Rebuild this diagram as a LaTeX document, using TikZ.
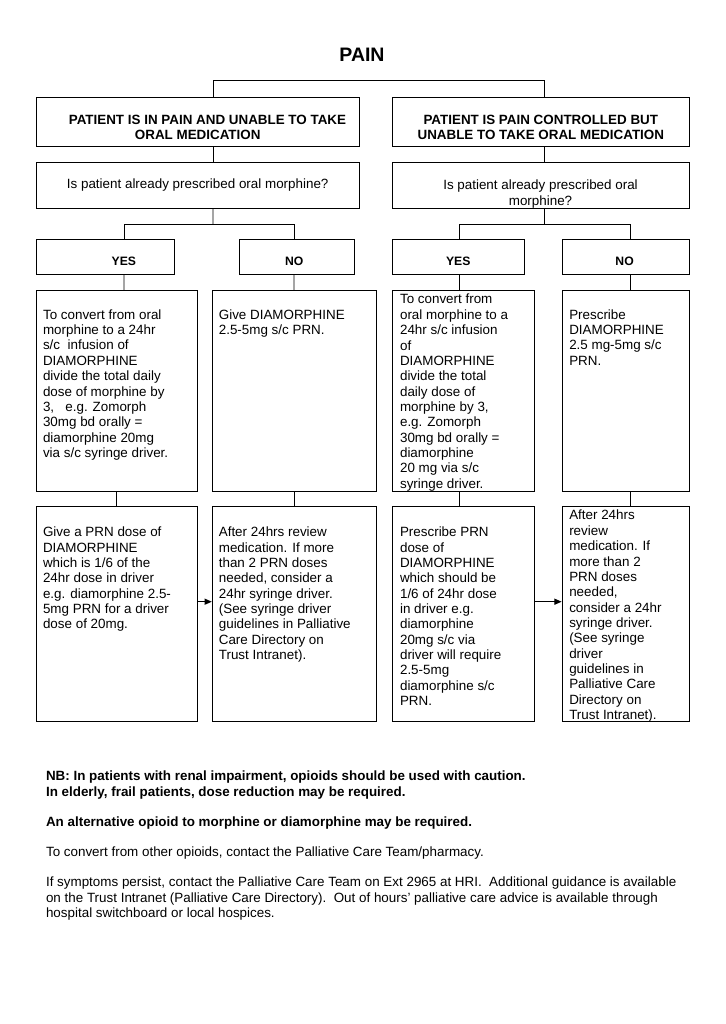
\documentclass[tikz,border=0pt]{standalone}
\usepackage{fontspec}
\setmainfont{Liberation Sans}
\usetikzlibrary{arrows.meta,positioning,fit}
\tikzset{
  box/.style={draw, line width=0.6pt, inner sep=0pt},
  txt/.style={inner sep=0pt, align=left, anchor=north west, font=\fontsize{11}{12.6}\selectfont},
  hdr/.style={inner sep=0pt, align=center, font=\fontsize{11}{12.6}\selectfont\bfseries},
  yn/.style={inner sep=0pt, font=\fontsize{10}{12}\selectfont\bfseries},
  ttl/.style={inner sep=0pt, font=\fontsize{16}{19}\selectfont\bfseries},
  link/.style={line width=0.6pt},
  arr/.style={line width=1pt, -{Triangle[length=6pt,width=5pt]}}
}

\begin{document}
\begin{tikzpicture}[x=0.8207pt,y=-0.8207pt]
  \useasboundingbox (0,0) rectangle (725,1024);
  \fill[white] (0,0) rectangle (725,1024);
  \node[ttl] (pain) at (362,55) {PAIN};
  % header boxes
  \node[box, fit={(36,97) (359.3,146.5)}] (h1) {};
  \node[box, fit={(392.6,97) (689,146.5)}] (h2) {};
  \node[hdr] (h1t) at (197.7,127.2) {\hspace*{16pt}PATIENT IS IN PAIN AND UNABLE TO TAKE\\ORAL MEDICATION};
  \node[hdr] (h2t) at (540.8,127.2) {PATIENT IS PAIN CONTROLLED BUT\\UNABLE TO TAKE ORAL MEDICATION};
  % questions
  \node[box, fit={(36,162) (359.3,208)}] (q1) {};
  \node[box, fit={(392.6,162) (689,208)}] (q2) {};
  \node[txt, anchor=center, align=center] (q1t) at (197.7,185) {Is patient already prescribed oral morphine?};
  \node[txt, anchor=center, align=center] (q2t) at (540.5,194.2) {Is patient already prescribed oral\\morphine?};
  % yes / no
  \foreach \n/\a/\b in {y1/36/174.2, n1/239.5/354.6, y2/392.6/524.4, n2/562/689}
    \node[box, fit={(\a,239.3) (\b,274.3)}] (\n) {};
  \foreach \n/\x/\t in {y1t/123.9/YES, n1t/294.3/NO, y2t/458.3/YES, n2t/624.6/NO}
    \node[yn] (\n) at (\x,261.7) {\t};
  % answer boxes
  \foreach \n/\a/\b in {c1/36/197.7, c2/212.2/376.8, c3/392.6/534.2, c4/562/689}{
    \node[box, fit={(\a,290.3) (\b,491)}] (\n) {};
    \node[box, fit={(\a,506.7) (\b,721.7)}] (d\n) {};
  }
  \node[txt] (c1t) at (42.8,309.3) {To convert from oral\\morphine to a 24hr\\s/c\ \ infusion of\\DIAMORPHINE\\divide the total daily\\dose of morphine by\\3,\ \ \ e.g. Zomorph\\30mg bd orally =\\diamorphine 20mg\\via s/c syringe driver.};
  \node[txt] (c2t) at (218.6,309.3) {Give DIAMORPHINE\\2.5-5mg s/c PRN.};
  \node[txt] (c3t) at (399.8,294) {To convert from\\oral morphine to a\\24hr s/c infusion\\of\\DIAMORPHINE\\divide the total\\daily dose of\\morphine by 3,\\e.g. Zomorph\\30mg bd orally =\\diamorphine\\20 mg via s/c\\syringe driver.};
  \node[txt] (c4t) at (569,309.3) {Prescribe\\DIAMORPHINE\\2.5 mg-5mg s/c\\PRN.};
  \node[txt] (d1t) at (42.8,526.7) {Give a PRN dose of\\DIAMORPHINE\\which is 1/6 of the\\24hr dose in driver\\e.g. diamorphine 2.5-\\5mg PRN for a driver\\dose of 20mg.};
  \node[txt] (d2t) at (218.6,526.7) {After 24hrs review\\medication. If more\\than 2 PRN doses\\needed, consider a\\24hr syringe driver.\\(See syringe driver\\guidelines in Palliative\\Care Directory on\\Trust Intranet).};
  \node[txt] (d3t) at (399.8,526.7) {Prescribe PRN\\dose of\\DIAMORPHINE\\which should be\\1/6 of 24hr dose\\in driver e.g.\\diamorphine\\20mg s/c via\\driver will require\\2.5-5mg\\diamorphine s/c\\PRN.};
  \node[txt] (d4t) at (569,510) {After 24hrs\\review\\medication. If\\more than 2\\PRN doses\\needed,\\consider a 24hr\\syringe driver.\\(See syringe\\driver\\guidelines in\\Palliative Care\\Directory on\\Trust Intranet).};
  % connectors
  \coordinate (top) at (378.9,80.7);
  \coordinate (b1) at (213,224.3);
  \coordinate (b2) at (544.8,224.3);
  \draw[link] ([shift={(15.3,0)}]h1.north) |- (top) -| ([shift={(4,0)}]h2.north);
  \draw[link] ([shift={(15.3,0)}]h1.south) -- ([shift={(15.3,0)}]q1.north);
  \draw[link] ([shift={(4,0)}]h2.south) -- ([shift={(4,0)}]q2.north);
  \draw[link] ([shift={(15.3,0)}]q1.south) -- (b1);
  \draw[link] ([shift={(4,0)}]q2.south) -- (b2);
  \draw[link] ([shift={(18.8,0)}]y1.north) |- (b1) -| ([shift={(-3,0)}]n1.north);
  \draw[link] ([shift={(1,0)}]y2.north) |- (b2) -| ([shift={(4.6,0)}]n2.north);
  \draw[link] ([shift={(18.8,0)}]y1.south) -- ([shift={(7.1,0)}]c1.north);
  \draw[link] ([shift={(-3,0)}]n1.south) -- ([shift={(-0.5,0)}]c2.north);
  \draw[link] ([shift={(1,0)}]y2.south) -- ([shift={(-3.9,0)}]c3.north);
  \draw[link] ([shift={(4.6,0)}]n2.south) -- ([shift={(4.6,0)}]c4.north);
  \draw[link] (c1.south) -- (dc1.north);
  \draw[link] (c2.south) -- (dc2.north);
  \draw[link] ([shift={(-3.9,0)}]c3.south) -- ([shift={(-3.9,0)}]dc3.north);
  \draw[link] ([shift={(4.6,0)}]c4.south) -- ([shift={(4.6,0)}]dc4.north);
  \draw[arr] ([shift={(0,-12.5)}]dc1.east) -- ([shift={(0,-12.5)}]dc2.west);
  \draw[arr] ([shift={(0,-12.5)}]dc3.east) -- ([shift={(0,-12.5)}]dc4.west);
  % notes
  \node[txt, font=\fontsize{11}{13}\selectfont\bfseries] (nb) at (45.8,770.7) {NB: In patients with renal impairment, opioids should be used with caution.\\In elderly, frail patients, dose reduction may be required.};
  \node[txt, font=\fontsize{11}{13}\selectfont\bfseries] (alt) at (45.8,816.7) {An alternative opioid to morphine or diamorphine may be required.};
  \node[txt] (conv) at (45.8,846.7) {To convert from other opioids, contact the Palliative Care Team/pharmacy.};
  \node[txt] (sym) at (45.8,876.7) {If symptoms persist, contact the Palliative Care Team on Ext 2965 at HRI.\ \ Additional guidance is available\\on the Trust Intranet (Palliative Care Directory).\ \ Out of hours’ palliative care advice is available through\\hospital switchboard or local hospices.};
\end{tikzpicture}
\end{document}
